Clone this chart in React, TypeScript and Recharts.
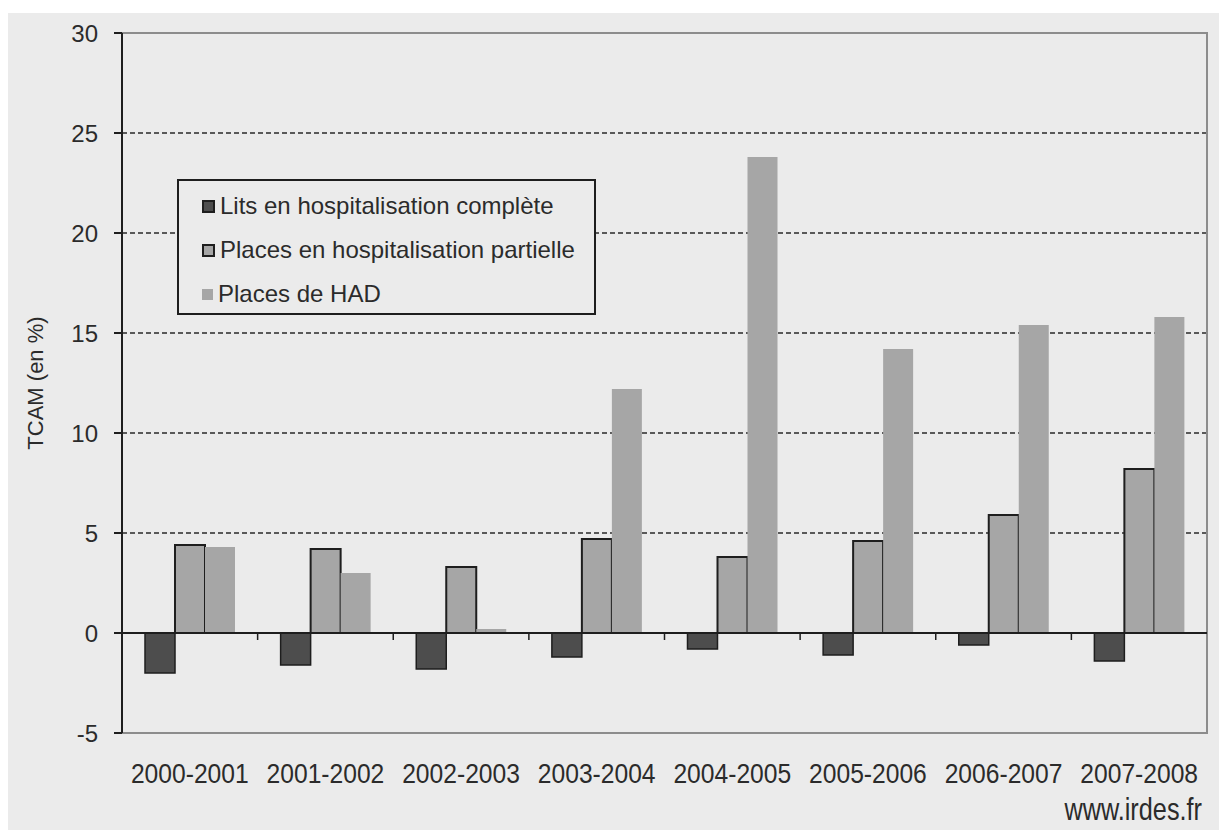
import {
  BarChart,
  Bar,
  XAxis,
  YAxis,
  CartesianGrid,
  ReferenceLine,
  ReferenceArea,
  Label,
} from 'recharts'

const periods = [
  '2000-2001',
  '2001-2002',
  '2002-2003',
  '2003-2004',
  '2004-2005',
  '2005-2006',
  '2006-2007',
  '2007-2008',
]
const litsComplete = [-2.0, -1.6, -1.8, -1.2, -0.8, -1.1, -0.6, -1.4]
const placesPartielle = [4.4, 4.2, 3.3, 4.7, 3.8, 4.6, 5.9, 8.2]
const placesHad = [4.3, 3.0, 0.2, 12.2, 23.8, 14.2, 15.4, 15.8]
const yTicks = [-5, 0, 5, 10, 15, 20, 25, 30]
const gridValues = [5, 10, 15, 20, 25]

const seriesKeys = ['lits', 'partielle', 'had']
const seriesNames: Record<string, string> = {
  lits: 'Lits en hospitalisation complète',
  partielle: 'Places en hospitalisation partielle',
  had: 'Places de HAD',
}

const data = periods.map((period, i) => ({
  period,
  lits: litsComplete[i],
  partielle: placesPartielle[i],
  had: placesHad[i],
}))

const FONT = '"Liberation Sans", Arial, sans-serif'
const BG = '#ebebeb'
const DARK = '#4d4d4d'
const MID = '#a6a6a6'
const INK = '#1e1e1e'
const TEXT = '#2b2b2b'

// zero line with small ticks at the category boundaries
function ZeroLine(props: any) {
  const { x1, y1, x2 } = props
  const step = (x2 - x1) / periods.length
  return (
    <g>
      <line x1={x1} y1={y1} x2={x2} y2={y1} stroke={INK} strokeWidth={2} />
      {periods.slice(1).map((p, i) => (
        <line
          key={p}
          x1={x1 + step * (i + 1)}
          x2={x1 + step * (i + 1)}
          y1={y1}
          y2={y1 + 7}
          stroke={INK}
          strokeWidth={1.5}
        />
      ))}
    </g>
  )
}

function PeriodTick({ x, y, payload }: any) {
  return (
    <g transform={`translate(${x},${y})`}>
      <text
        transform="scale(0.88,1)"
        y={50}
        textAnchor="middle"
        fontSize={28}
        fontFamily={FONT}
        fill={TEXT}
      >
        {payload.value}
      </text>
    </g>
  )
}

function YTitle({ viewBox }: any) {
  const cx = viewBox.x + 27
  const cy = viewBox.y + viewBox.height / 2
  return (
    <text
      transform={`translate(${cx},${cy}) rotate(-90)`}
      textAnchor="middle"
      dominantBaseline="central"
      fontSize={22}
      fontFamily={FONT}
      fill={TEXT}
    >
      TCAM (en %)
    </text>
  )
}

function Source({ viewBox }: any) {
  return (
    <g transform={`translate(${viewBox.x + viewBox.width - 5},${viewBox.y + 87})`}>
      <text transform="scale(0.79,1)" textAnchor="end" fontSize={32} fontFamily={FONT} fill={TEXT}>
        www.irdes.fr
      </text>
    </g>
  )
}

const markerStyle: Record<string, React.CSSProperties> = {
  lits: { background: DARK, border: `2px solid ${INK}`, width: 9, height: 9 },
  partielle: { background: MID, border: `2px solid ${INK}`, width: 9, height: 9 },
  had: { background: MID, width: 11, height: 11 },
}

function LegendBox() {
  return (
    <div
      style={{
        position: 'absolute',
        left: 177,
        top: 179,
        boxSizing: 'border-box',
        width: 419,
        height: 136,
        border: `2px solid ${INK}`,
        background: BG,
        padding: '3px 0 0 23px',
        fontFamily: FONT,
        fontSize: 24,
        color: TEXT,
      }}
    >
      {seriesKeys.map((key) => (
        <div key={key} style={{ display: 'flex', alignItems: 'center', height: 44 }}>
          <span style={{ display: 'inline-block', marginRight: 5, ...markerStyle[key] }} />
          <span style={{ whiteSpace: 'nowrap' }}>{seriesNames[key]}</span>
        </div>
      ))}
    </div>
  )
}

export default function App() {
  return (
    <div style={{ position: 'absolute', left: 0, top: 0, width: 1219, height: 830, background: '#fff' }}>
      <div style={{ position: 'absolute', left: 8, top: 13, right: 0, bottom: 0, background: BG }} />
      <div style={{ position: 'absolute', left: 0, top: 0 }}>
        <BarChart
          width={1219}
          height={830}
          data={data}
          margin={{ top: 33, right: 12, bottom: 37, left: 8 }}
          barCategoryGap={23}
          barGap={0}
        >
          <ReferenceArea y1={-5} y2={30} fill="none" stroke="#8c8c8c" strokeWidth={2} ifOverflow="extendDomain" />
          <CartesianGrid
            vertical={false}
            horizontalValues={gridValues}
            stroke="#2a2a2a"
            strokeWidth={1.5}
            strokeDasharray="5 3"
          />
          <XAxis
            dataKey="period"
            height={60}
            axisLine={false}
            tickLine={false}
            tickSize={0}
            tickMargin={0}
            interval={0}
            tick={<PeriodTick />}
          >
            <Label content={<Source />} />
          </XAxis>
          <YAxis
            width={114}
            domain={[-5, 30]}
            ticks={yTicks}
            interval={0}
            allowDataOverflow
            stroke={INK}
            strokeWidth={2}
            tickSize={8}
            tickMargin={16}
            tick={{ fontSize: 24, fill: TEXT, fontFamily: FONT }}
          >
            <Label content={<YTitle />} />
          </YAxis>
          <Bar
            dataKey="lits"
            name={seriesNames.lits}
            fill={DARK}
            stroke={INK}
            strokeWidth={1.5}
            isAnimationActive={false}
          />
          <Bar
            dataKey="partielle"
            name={seriesNames.partielle}
            fill={MID}
            stroke={INK}
            strokeWidth={2}
            isAnimationActive={false}
          />
          <Bar dataKey="had" name={seriesNames.had} fill={MID} isAnimationActive={false} />
          <ReferenceLine y={0} shape={<ZeroLine />} />
        </BarChart>
      </div>
      <LegendBox />
    </div>
  )
}
